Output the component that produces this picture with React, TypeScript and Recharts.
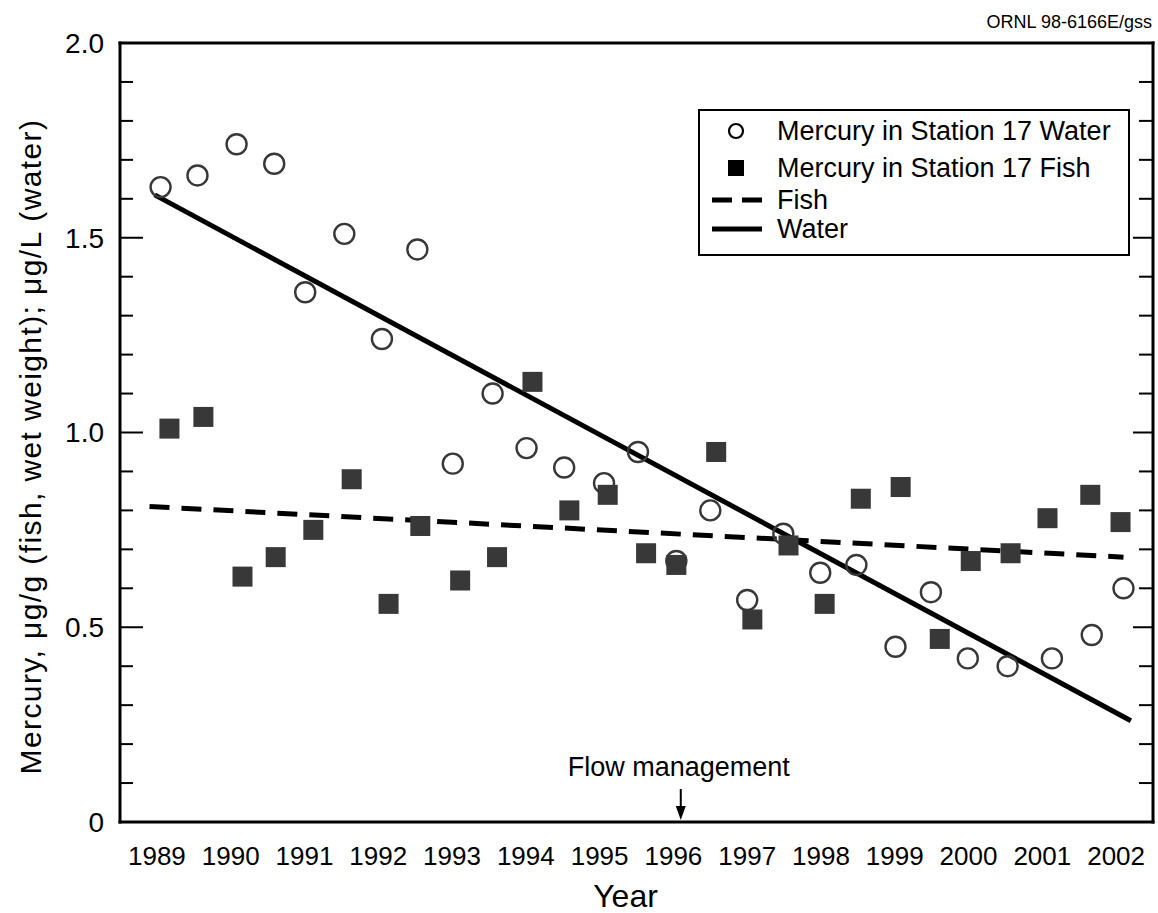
import React from 'react';
import {
  ComposedChart,
  Scatter,
  XAxis,
  YAxis,
  ReferenceDot,
  Legend,
} from 'recharts';

// sampling dates (decimal years) and mercury values
const WATER_YEARS = [
  1989.55, 1990.05, 1990.58, 1991.09, 1991.51, 1992.04, 1992.55, 1993.03, 1993.51,
  1994.05, 1994.51, 1995.02, 1995.56, 1996.02, 1996.54, 1997.0, 1997.5, 1997.99,
  1998.49, 1998.98, 1999.51, 1999.99, 2000.49, 2001.03, 2001.63, 2002.17, 2002.6,
];
const WATER_HG = [
  1.63, 1.66, 1.74, 1.69, 1.36, 1.51, 1.24, 1.47, 0.92,
  1.1, 0.96, 0.91, 0.87, 0.95, 0.67, 0.8, 0.57, 0.74,
  0.64, 0.66, 0.45, 0.59, 0.42, 0.4, 0.42, 0.48, 0.6,
];
const FISH_YEARS = [
  1989.67, 1990.13, 1990.66, 1991.11, 1991.62, 1992.14, 1992.64, 1993.07, 1993.61,
  1994.11, 1994.59, 1995.09, 1995.61, 1996.13, 1996.54, 1997.08, 1997.57, 1998.06,
  1998.55, 1999.04, 1999.58, 2000.11, 2000.53, 2001.07, 2001.57, 2002.15, 2002.56,
];
const FISH_HG = [
  1.01, 1.04, 0.63, 0.68, 0.75, 0.88, 0.56, 0.76, 0.62,
  0.68, 1.13, 0.8, 0.84, 0.69, 0.66, 0.95, 0.52, 0.71,
  0.56, 0.83, 0.86, 0.47, 0.67, 0.69, 0.78, 0.84, 0.77,
];

// regression lines (end points)
const WATER_TREND_YEARS = [1989.47, 2002.7];
const WATER_TREND = [1.61, 0.26];
const FISH_TREND_YEARS = [1989.4, 2002.6];
const FISH_TREND = [0.81, 0.68];

const FLOW_YEAR = 1996.6;

const YEAR_BOUNDS = [1990, 1991, 1992, 1993, 1994, 1995, 1996, 1997, 1998, 1999, 2000, 2001, 2002];
const YEAR_LABELS = [1989.5, 1990.5, 1991.5, 1992.5, 1993.5, 1994.5, 1995.5, 1996.5, 1997.5, 1998.5, 1999.5, 2000.5, 2001.5, 2002.5];
const Y_MAJOR = [0, 0.5, 1, 1.5, 2];
const Y_MINOR = [0.1, 0.2, 0.3, 0.4, 0.6, 0.7, 0.8, 0.9, 1.1, 1.2, 1.3, 1.4, 1.6, 1.7, 1.8, 1.9];

const toPoints = (xs: number[], ys: number[]) => xs.map((x, i) => ({ x, y: ys[i] }));

const waterData = toPoints(WATER_YEARS, WATER_HG);
const fishData = toPoints(FISH_YEARS, FISH_HG);
const waterTrend = toPoints(WATER_TREND_YEARS, WATER_TREND);
const fishTrend = toPoints(FISH_TREND_YEARS, FISH_TREND);

const FONT = '"Liberation Sans", Arial, Helvetica, sans-serif';
const INK = '#000';
const MARK = '#383838';

const axisLine = { stroke: INK, strokeWidth: 3, strokeLinecap: 'square' as const };
const tickLine = { stroke: INK, strokeWidth: 2 };
const blank = () => '';

const OpenCircle = (p: any) => (
  <circle cx={p.cx} cy={p.cy} r={10} fill="none" stroke={MARK} strokeWidth={2.4} />
);
const FilledSquare = (p: any) => (
  <rect x={p.cx - 10} y={p.cy - 10} width={20} height={20} fill={MARK} />
);
const NoDot = () => <g />;

const FlowMarker = (p: any) => (
  <g>
    <text x={p.cx - 2} y={p.cy - 46} textAnchor="middle" fontSize={27} fontFamily={FONT} fill={INK}>
      Flow management
    </text>
    <line x1={p.cx} y1={p.cy - 33} x2={p.cx} y2={p.cy - 12} stroke={INK} strokeWidth={2} />
    <polygon points={`${p.cx - 5},${p.cy - 16} ${p.cx + 5},${p.cy - 16} ${p.cx},${p.cy - 2}`} fill={INK} />
  </g>
);

const YTitle = ({ viewBox }: any) => (
  <text
    x={0}
    y={0}
    transform={`translate(${viewBox.x + 30}, ${viewBox.y + viewBox.height / 2 + 14}) rotate(-90)`}
    textAnchor="middle"
    dominantBaseline="central"
    fontSize={30}
    letterSpacing={1.4}
    fontFamily={FONT}
    fill={INK}
  >
    Mercury, μg/g (fish, wet weight); μg/L (water)
  </text>
);

const XTitle = ({ viewBox }: any) => (
  <text
    x={viewBox.x + viewBox.width / 2 - 11}
    y={viewBox.y + 85}
    textAnchor="middle"
    fontSize={32}
    fontFamily={FONT}
    fill={INK}
  >
    Year
  </text>
);

const legendRows = [
  { key: 'wpt', label: 'Mercury in Station 17 Water', h: 38 },
  { key: 'fpt', label: 'Mercury in Station 17 Fish', h: 36 },
  { key: 'ftr', label: 'Fish', h: 28 },
  { key: 'wtr', label: 'Water', h: 30 },
];

const LegendIcon = ({ kind }: { kind: string }) => (
  <svg width={56} height={20} style={{ display: 'block' }}>
    {kind === 'wpt' && <circle cx={26} cy={10} r={7} fill="none" stroke={INK} strokeWidth={2.2} />}
    {kind === 'fpt' && <rect x={18} y={2} width={16} height={16} fill={INK} />}
    {kind === 'ftr' && <line x1={2} y1={10} x2={52} y2={10} stroke={INK} strokeWidth={5} strokeDasharray="20 10" />}
    {kind === 'wtr' && <line x1={2} y1={10} x2={52} y2={10} stroke={INK} strokeWidth={5} />}
  </svg>
);

const LegendBox = () => (
  <div
    style={{
      border: '2px solid #000',
      background: '#fff',
      width: 428,
      height: 142,
      boxSizing: 'content-box',
      paddingTop: 1,
      fontFamily: FONT,
      fontSize: 27,
      color: INK,
    }}
  >
    {legendRows.map((r) => (
      <div key={r.key} style={{ display: 'flex', alignItems: 'center', height: r.h }}>
        <div style={{ width: 10 }} />
        <LegendIcon kind={r.key} />
        <div style={{ width: 11 }} />
        <span style={{ whiteSpace: 'nowrap' }}>{r.label}</span>
      </div>
    ))}
  </div>
);

export default function App() {
  return (
    <div style={{ position: 'absolute', left: 0, top: 0, width: 1158, height: 913, background: '#fff' }}>
      <div
        style={{
          position: 'absolute',
          right: 6,
          top: 12,
          fontFamily: FONT,
          fontSize: 18,
          color: INK,
        }}
      >
        ORNL 98-6166E/gss
      </div>
      <ComposedChart width={1158} height={913} margin={{ top: 43, right: 5, bottom: 0, left: 0 }}>
        {/* value axis with labels (left) */}
        <YAxis
          yAxisId="v"
          type="number"
          dataKey="y"
          domain={[0, 2]}
          allowDataOverflow
          ticks={Y_MAJOR}
          interval={0}
          width={120}
          tickLine={false}
          tickSize={0}
          tickMargin={16}
          axisLine={axisLine}
          tick={{ fill: INK, fontSize: 28, fontFamily: FONT }}
          tickFormatter={(v: number) => (v === 0 ? '0' : v.toFixed(1))}
          label={{ content: <YTitle /> }}
        />
        {/* inward tick marks, left */}
        <YAxis yAxisId="lMaj" mirror width={1} domain={[0, 2]} allowDataOverflow ticks={Y_MAJOR} interval={0}
          axisLine={false} tickLine={tickLine} tickSize={23} tickFormatter={blank} />
        <YAxis yAxisId="lMin" mirror width={1} domain={[0, 2]} allowDataOverflow ticks={Y_MINOR} interval={0}
          axisLine={false} tickLine={tickLine} tickSize={12} tickFormatter={blank} />
        {/* inward tick marks, right (frame) */}
        <YAxis yAxisId="rMaj" orientation="right" mirror width={1} domain={[0, 2]} allowDataOverflow ticks={Y_MAJOR}
          interval={0} axisLine={axisLine} tickLine={tickLine} tickSize={20} tickFormatter={blank} />
        <YAxis yAxisId="rMin" orientation="right" mirror width={1} domain={[0, 2]} allowDataOverflow ticks={Y_MINOR}
          interval={0} axisLine={false} tickLine={tickLine} tickSize={13} tickFormatter={blank} />

        {/* year axis with centred labels (bottom) */}
        <XAxis
          xAxisId="x"
          type="number"
          dataKey="x"
          domain={[1989, 2003]}
          allowDataOverflow
          ticks={YEAR_LABELS}
          interval={0}
          height={91}
          tickLine={false}
          tickSize={0}
          tickMargin={25}
          axisLine={axisLine}
          tick={{ fill: INK, fontSize: 26, fontFamily: FONT }}
          tickFormatter={(v: number) => String(Math.floor(v))}
          label={{ content: <XTitle /> }}
        />
        <XAxis xAxisId="bTick" type="number" mirror height={1} domain={[1989, 2003]} allowDataOverflow
          ticks={YEAR_BOUNDS} interval={0} axisLine={false} tickLine={tickLine} tickSize={24} tickFormatter={blank} />
        <XAxis xAxisId="tTick" orientation="top" type="number" mirror height={1} domain={[1989, 2003]} allowDataOverflow
          ticks={YEAR_BOUNDS} interval={0} axisLine={axisLine} tickLine={tickLine} tickSize={22} tickFormatter={blank} />

        <Scatter
          name="Fish"
          xAxisId="x"
          yAxisId="v"
          data={fishTrend}
          line={{ stroke: INK, strokeWidth: 5, strokeDasharray: '20 12' }}
          shape={NoDot}
          isAnimationActive={false}
        />
        <Scatter
          name="Water"
          xAxisId="x"
          yAxisId="v"
          data={waterTrend}
          line={{ stroke: INK, strokeWidth: 5 }}
          shape={NoDot}
          isAnimationActive={false}
        />
        <Scatter
          name="Mercury in Station 17 Water"
          xAxisId="x"
          yAxisId="v"
          data={waterData}
          shape={OpenCircle}
          isAnimationActive={false}
        />
        <Scatter
          name="Mercury in Station 17 Fish"
          xAxisId="x"
          yAxisId="v"
          data={fishData}
          shape={FilledSquare}
          isAnimationActive={false}
        />

        <ReferenceDot xAxisId="x" yAxisId="v" x={FLOW_YEAR} y={0} ifOverflow="visible" shape={FlowMarker} />

        <Legend
          layout="horizontal"
          verticalAlign="middle"
          align="center"
          content={<LegendBox />}
          wrapperStyle={{ position: 'absolute', top: 109, left: 698, width: 432 }}
        />
      </ComposedChart>
    </div>
  );
}
